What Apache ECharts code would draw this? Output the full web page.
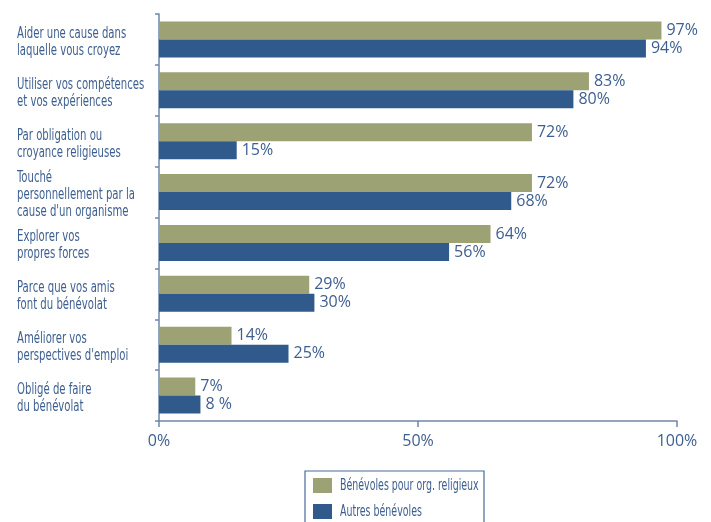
<!DOCTYPE html>
<html>
<head>
<meta charset="utf-8">
<script src="https://cdn.jsdelivr.net/npm/echarts@6/dist/echarts.min.js"></script>
<style>
  html, body { margin: 0; padding: 0; background: #fff; }
  #chart { width: 711px; height: 522px; }
</style>
</head>
<body>
<div id="chart"></div>
<script>
// Motivations for volunteering, by type of volunteer (%)
const categories = [
  "Aider une cause dans\nlaquelle vous croyez",
  "Utiliser vos compétences\net vos expériences",
  "Par obligation ou\ncroyance religieuses",
  "Touché\npersonnellement par la\ncause d'un organisme",
  "Explorer vos\npropres forces",
  "Parce que vos amis\nfont du bénévolat",
  "Améliorer vos\nperspectives d'emploi",
  "Obligé de faire\ndu bénévolat"
];
const religiousValues = [97, 83, 72, 72, 64, 29, 14, 7];
const otherValues = [94, 80, 15, 68, 56, 30, 25, 8];
const religiousLabels = ["97%", "83%", "72%", "72%", "64%", "29%", "14%", "7%"];
const otherLabels = ["94%", "80%", "15%", "68%", "56%", "30%", "25%", "8 %"];
const seriesNames = ["Bénévoles pour org. religieux", "Autres bénévoles"];
const xTicks = [0, 50, 100];

const GREEN = "#9ca273";
const BLUE = "#2f5a8b";
const TEXT = "#3d5f90";
const AXIS = "#6f87aa";
const NARROW = "'DejaVu Sans Condensed', 'DejaVu Sans', sans-serif";
const VALUE_FONT = "'Open Sans', 'DejaVu Sans', sans-serif";

const chart = echarts.init(document.getElementById("chart"), null, { renderer: "canvas" });

function valueLabel(labels) {
  return {
    show: true,
    position: "right",
    distance: 5,
    color: TEXT,
    fontFamily: VALUE_FONT,
    fontSize: 16,
    formatter: p => labels[p.dataIndex]
  };
}

// Narrow caption text: a condensed face squeezed horizontally
function narrowText(x, y, text, squeeze) {
  return {
    type: "text",
    x: x,
    y: y,
    scaleX: squeeze,
    silent: true,
    style: {
      text: text,
      fill: TEXT,
      font: "15px " + NARROW,
      lineHeight: 17,
      textAlign: "left",
      textVerticalAlign: "middle"
    }
  };
}

chart.setOption({
  animation: false,
  backgroundColor: "#fff",
  grid: { left: 159, right: 34, top: 14, bottom: 101, containLabel: false },
  xAxis: {
    type: "value",
    min: 0,
    max: 100,
    interval: 50,
    axisLine: { show: true, lineStyle: { color: AXIS, width: 1.5 } },
    axisTick: { show: true, length: 6, lineStyle: { color: AXIS, width: 1.5 } },
    splitLine: { show: false },
    axisLabel: {
      color: TEXT,
      fontFamily: VALUE_FONT,
      fontSize: 16,
      margin: 12,
      formatter: v => xTicks.indexOf(v) >= 0 ? v + "%" : ""
    }
  },
  yAxis: {
    type: "category",
    data: categories,
    inverse: true,
    axisLine: { show: true, lineStyle: { color: AXIS, width: 1.5 } },
    axisTick: { show: true, length: 4, lineStyle: { color: AXIS, width: 1.5 } },
    axisLabel: { show: false }
  },
  series: [
    {
      name: seriesNames[0],
      type: "bar",
      data: religiousValues,
      barWidth: 18,
      barGap: "0%",
      itemStyle: { color: GREEN },
      label: valueLabel(religiousLabels)
    },
    {
      name: seriesNames[1],
      type: "bar",
      data: otherValues,
      barWidth: 18,
      barGap: "0%",
      itemStyle: { color: BLUE },
      label: valueLabel(otherLabels)
    }
  ]
});

// Category captions, placed on the category axis positions
const captions = categories.map((c, i) => {
  const y = chart.convertToPixel({ yAxisIndex: 0 }, i);
  return narrowText(17, y + 3, c, 0.75);
});

// Boxed legend below the plot
const legendX = 305, legendY = 471;
const legendItems = [];
seriesNames.forEach((name, i) => {
  const rowY = legendY + 7 + i * 26;
  legendItems.push({
    type: "rect",
    silent: true,
    shape: { x: legendX + 8, y: rowY, width: 19, height: 15 },
    style: { fill: i === 0 ? GREEN : BLUE }
  });
  legendItems.push(narrowText(legendX + 35, rowY + 8, name, 0.7));
});

chart.setOption({
  graphic: [
    ...captions,
    {
      type: "rect",
      silent: true,
      shape: { x: legendX, y: legendY, width: 179, height: 70 },
      style: { fill: "none", stroke: "#4a6a98", lineWidth: 1.2 }
    },
    ...legendItems
  ]
});
</script>
</body>
</html>
